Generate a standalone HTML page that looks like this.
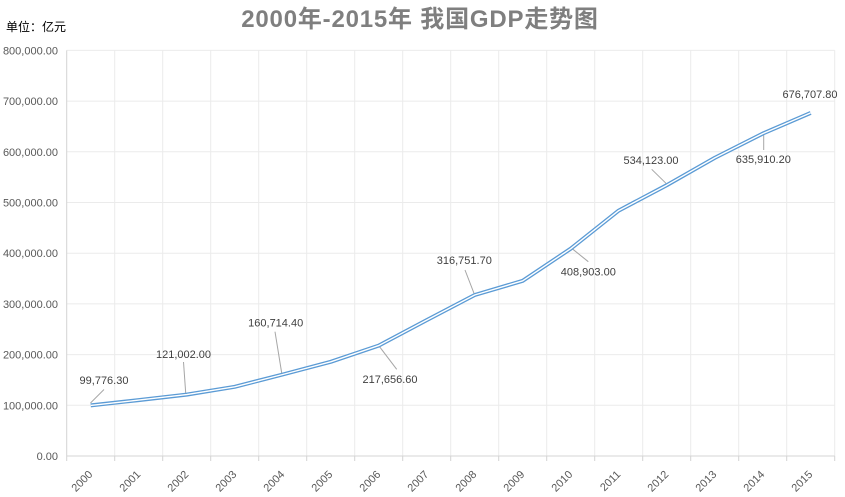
<!DOCTYPE html>
<html>
<head>
<meta charset="utf-8">
<style>
  html,body{margin:0;padding:0;background:#fff;}
  body{width:845px;height:497px;overflow:hidden;}
  svg{display:block;}
  text{font-family:"Liberation Sans","Noto Sans CJK SC",sans-serif;}
</style>
</head>
<body>
<svg width="845" height="497" viewBox="0 0 845 497" xmlns="http://www.w3.org/2000/svg">
  <rect width="845" height="497" fill="#fff"/>
  <!-- title -->
  <text x="420" y="27" text-anchor="middle" font-size="24" font-weight="bold" fill="#7f7f7f" letter-spacing="0.8">2000年-2015年 我国GDP走势图</text>
  <text x="6" y="31" font-size="12" fill="#000">单位：亿元</text>

  <!-- horizontal grid -->
  <g stroke="#ebebeb" stroke-width="1">
    <line x1="66.7" y1="50.4" x2="834.7" y2="50.4"/>
    <line x1="66.7" y1="101.1" x2="834.7" y2="101.1"/>
    <line x1="66.7" y1="151.8" x2="834.7" y2="151.8"/>
    <line x1="66.7" y1="202.5" x2="834.7" y2="202.5"/>
    <line x1="66.7" y1="253.2" x2="834.7" y2="253.2"/>
    <line x1="66.7" y1="303.9" x2="834.7" y2="303.9"/>
    <line x1="66.7" y1="354.6" x2="834.7" y2="354.6"/>
    <line x1="66.7" y1="405.3" x2="834.7" y2="405.3"/>
  </g>
  <!-- vertical grid -->
  <g stroke="#ebebeb" stroke-width="1">
    <line x1="114.7" y1="50.4" x2="114.7" y2="456"/>
    <line x1="162.7" y1="50.4" x2="162.7" y2="456"/>
    <line x1="210.7" y1="50.4" x2="210.7" y2="456"/>
    <line x1="258.7" y1="50.4" x2="258.7" y2="456"/>
    <line x1="306.7" y1="50.4" x2="306.7" y2="456"/>
    <line x1="354.7" y1="50.4" x2="354.7" y2="456"/>
    <line x1="402.7" y1="50.4" x2="402.7" y2="456"/>
    <line x1="450.7" y1="50.4" x2="450.7" y2="456"/>
    <line x1="498.7" y1="50.4" x2="498.7" y2="456"/>
    <line x1="546.7" y1="50.4" x2="546.7" y2="456"/>
    <line x1="594.7" y1="50.4" x2="594.7" y2="456"/>
    <line x1="642.7" y1="50.4" x2="642.7" y2="456"/>
    <line x1="690.7" y1="50.4" x2="690.7" y2="456"/>
    <line x1="738.7" y1="50.4" x2="738.7" y2="456"/>
    <line x1="786.7" y1="50.4" x2="786.7" y2="456"/>
    <line x1="834.7" y1="50.4" x2="834.7" y2="456"/>
  </g>
  <!-- axes -->
  <g stroke="#d4d4d4" stroke-width="1">
    <line x1="66.7" y1="50.4" x2="66.7" y2="456"/>
    <line x1="66.7" y1="456" x2="834.7" y2="456"/>
    <line x1="66.7" y1="456" x2="66.7" y2="461"/>
    <line x1="114.7" y1="456" x2="114.7" y2="461"/>
    <line x1="162.7" y1="456" x2="162.7" y2="461"/>
    <line x1="210.7" y1="456" x2="210.7" y2="461"/>
    <line x1="258.7" y1="456" x2="258.7" y2="461"/>
    <line x1="306.7" y1="456" x2="306.7" y2="461"/>
    <line x1="354.7" y1="456" x2="354.7" y2="461"/>
    <line x1="402.7" y1="456" x2="402.7" y2="461"/>
    <line x1="450.7" y1="456" x2="450.7" y2="461"/>
    <line x1="498.7" y1="456" x2="498.7" y2="461"/>
    <line x1="546.7" y1="456" x2="546.7" y2="461"/>
    <line x1="594.7" y1="456" x2="594.7" y2="461"/>
    <line x1="642.7" y1="456" x2="642.7" y2="461"/>
    <line x1="690.7" y1="456" x2="690.7" y2="461"/>
    <line x1="738.7" y1="456" x2="738.7" y2="461"/>
    <line x1="786.7" y1="456" x2="786.7" y2="461"/>
    <line x1="834.7" y1="456" x2="834.7" y2="461"/>
  </g>

  <!-- y labels -->
  <g font-size="11" fill="#595959" text-anchor="end">
    <text x="58" y="54.4">800,000.00</text>
    <text x="58" y="105.1">700,000.00</text>
    <text x="58" y="155.8">600,000.00</text>
    <text x="58" y="206.5">500,000.00</text>
    <text x="58" y="257.2">400,000.00</text>
    <text x="58" y="307.9">300,000.00</text>
    <text x="58" y="358.6">200,000.00</text>
    <text x="58" y="409.3">100,000.00</text>
    <text x="58" y="460">0.00</text>
  </g>

  <!-- x labels -->
  <g font-size="11" fill="#595959" text-anchor="end">
    <text transform="translate(93.2,475) rotate(-45)">2000</text>
    <text transform="translate(141.2,475) rotate(-45)">2001</text>
    <text transform="translate(189.2,475) rotate(-45)">2002</text>
    <text transform="translate(237.2,475) rotate(-45)">2003</text>
    <text transform="translate(285.2,475) rotate(-45)">2004</text>
    <text transform="translate(333.2,475) rotate(-45)">2005</text>
    <text transform="translate(381.2,475) rotate(-45)">2006</text>
    <text transform="translate(429.2,475) rotate(-45)">2007</text>
    <text transform="translate(477.2,475) rotate(-45)">2008</text>
    <text transform="translate(525.2,475) rotate(-45)">2009</text>
    <text transform="translate(573.2,475) rotate(-45)">2010</text>
    <text transform="translate(621.2,475) rotate(-45)">2011</text>
    <text transform="translate(669.2,475) rotate(-45)">2012</text>
    <text transform="translate(717.2,475) rotate(-45)">2013</text>
    <text transform="translate(765.2,475) rotate(-45)">2014</text>
    <text transform="translate(813.2,475) rotate(-45)">2015</text>
  </g>

  <!-- leader lines -->
  <g stroke="#a6a6a6" stroke-width="1">
    <line x1="90.5" y1="403" x2="104" y2="389.5"/>
    <line x1="183.5" y1="362" x2="185.7" y2="393"/>
    <line x1="275" y1="331.7" x2="281.7" y2="373"/>
    <line x1="379" y1="346" x2="396.7" y2="369.3"/>
    <line x1="465" y1="270" x2="474" y2="293.3"/>
    <line x1="571.7" y1="248.3" x2="588.3" y2="261.7"/>
    <line x1="651.7" y1="169.3" x2="666" y2="183.3"/>
    <line x1="763.7" y1="135" x2="763.7" y2="150"/>
  </g>

  <!-- series -->
  <polyline fill="none" stroke="#5b9bd5" stroke-width="4" stroke-linejoin="round"
    points="90.7,405.4 138.7,400.1 186.7,394.6 234.7,386.8 282.7,374.5 330.7,361.8 378.7,345.6 426.7,320.1 474.7,295 522.7,280.8 570.7,248.7 618.7,210.6 666.7,185.2 714.7,157.9 762.7,133.6 810.7,112.9"/>
  <polyline fill="none" stroke="#ffffff" stroke-width="1.4" stroke-linejoin="round"
    points="90.7,405.4 138.7,400.1 186.7,394.6 234.7,386.8 282.7,374.5 330.7,361.8 378.7,345.6 426.7,320.1 474.7,295 522.7,280.8 570.7,248.7 618.7,210.6 666.7,185.2 714.7,157.9 762.7,133.6 810.7,112.9"/>

  <!-- data labels -->
  <g font-size="11" fill="#404040" text-anchor="middle">
    <text x="104" y="384">99,776.30</text>
    <text x="183.5" y="358">121,002.00</text>
    <text x="275.7" y="326.5">160,714.40</text>
    <text x="390" y="383">217,656.60</text>
    <text x="464.3" y="264">316,751.70</text>
    <text x="588.3" y="275.5">408,903.00</text>
    <text x="651" y="164">534,123.00</text>
    <text x="763.3" y="163">635,910.20</text>
    <text x="810" y="98">676,707.80</text>
  </g>
</svg>
</body>
</html>
